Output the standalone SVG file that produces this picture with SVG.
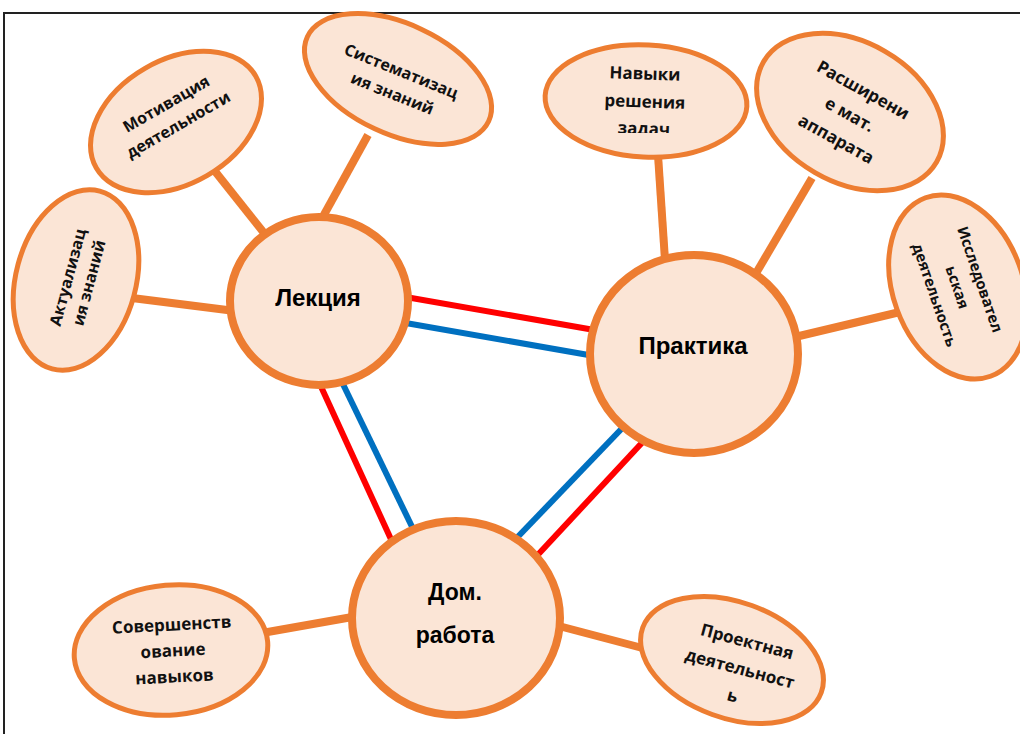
<svg xmlns="http://www.w3.org/2000/svg" width="1020" height="734" viewBox="0 0 1020 734">
<style>
.sat{fill:#FBE5D6;stroke:#ED7D31;stroke-width:5}
.main{fill:#FBE5D6;stroke:#ED7D31;stroke-width:8}
.st{font-family:"Open Sans","Liberation Sans",sans-serif;font-weight:700;font-size:16px;fill:#111;text-anchor:middle;dominant-baseline:central}
.mt{font-family:"Liberation Sans",Arial,sans-serif;font-weight:700;font-size:24px;fill:#000;text-anchor:middle;dominant-baseline:central}
.oc{stroke:#ED7D31;stroke-width:8;fill:none}
.r{stroke:#FF0000;stroke-width:6;fill:none}
.b{stroke:#0070C0;stroke-width:6;fill:none}
</style>
<defs>
<clipPath id="clipNav"><rect x="540" y="40" width="220" height="93"/></clipPath>
</defs>
<rect x="0" y="0" width="1020" height="734" fill="#fff"/>
<rect x="4" y="13" width="1030" height="740" fill="none" stroke="#222" stroke-width="2"/>
<g id="connectors">
<line class="oc" x1="132" y1="298" x2="235" y2="311"/>
<line class="oc" x1="210" y1="165" x2="268" y2="238"/>
<line class="oc" x1="368" y1="135" x2="320" y2="222"/>
<line class="oc" x1="658" y1="155" x2="665" y2="260"/>
<line class="oc" x1="812" y1="178" x2="755" y2="275"/>
<line class="oc" x1="795" y1="337" x2="900" y2="312"/>
<line class="oc" x1="262" y1="633" x2="358" y2="616"/>
<line class="oc" x1="555" y1="625" x2="650" y2="650"/>
<line class="r" x1="400" y1="296" x2="600" y2="331"/>
<line class="b" x1="400" y1="322" x2="600" y2="357"/>
<line class="r" x1="318" y1="380" x2="395" y2="548"/>
<line class="b" x1="340" y1="378" x2="416" y2="535"/>
<line class="b" x1="630" y1="420" x2="510" y2="545"/>
<line class="r" x1="652" y1="432" x2="533" y2="560"/>
</g>
<g id="n-aktual">
<ellipse class="sat" cx="0" cy="0" rx="60" ry="92" transform="translate(76 280) rotate(15)"/>
<g transform="translate(78 280) rotate(-75)">
<text class="st" x="0" y="-11">Актуализац</text>
<text class="st" x="0" y="11">ия знаний</text>
</g>
</g>
<g id="n-motiv">
<ellipse class="sat" cx="0" cy="0" rx="92" ry="62" transform="translate(176 122) rotate(-30)"/>
<g transform="translate(172 114) rotate(-30)">
<text class="st" x="0" y="-12">Мотивация</text>
<text class="st" x="0" y="12">деятельности</text>
</g>
</g>
<g id="n-sistem">
<ellipse class="sat" cx="0" cy="0" rx="100" ry="55" transform="translate(398 79) rotate(25)"/>
<g transform="translate(397 82) rotate(22)">
<text class="st" x="0" y="-12">Систематизац</text>
<text class="st" x="0" y="12">ия знаний</text>
</g>
</g>
<g id="n-navyki">
<ellipse class="sat" cx="0" cy="0" rx="101" ry="56" transform="translate(646 101) rotate(3)"/>
<g clip-path="url(#clipNav)">
<text class="st" style="font-size:17px" x="644" y="73" transform="rotate(2 644 100)">Навыки</text>
<text class="st" style="font-size:17px" x="645" y="101" transform="rotate(2 644 100)">решения</text>
<text class="st" style="font-size:17px" x="645" y="128" transform="rotate(2 644 100)">задач</text>
</g>
</g>
<g id="n-rasshir">
<ellipse class="sat" cx="0" cy="0" rx="100" ry="70" transform="translate(850 112) rotate(30)"/>
<g transform="translate(850 114) rotate(29)">
<text class="st" style="font-size:17px" x="0" y="-28">Расширени</text>
<text class="st" style="font-size:17px" x="0" y="0">е мат.</text>
<text class="st" style="font-size:17px" x="0" y="28">аппарата</text>
</g>
</g>
<g id="n-issled">
<ellipse class="sat" cx="0" cy="0" rx="65" ry="95" transform="translate(958 287) rotate(-20)"/>
<g transform="translate(958 287) rotate(71)">
<text class="st" style="font-size:15px" x="0" y="-24">Исследовател</text>
<text class="st" style="font-size:15px" x="0" y="0">ьская</text>
<text class="st" style="font-size:15px" x="0" y="24">деятельность</text>
</g>
</g>
<g id="n-soversh">
<ellipse class="sat" cx="0" cy="0" rx="97" ry="65" transform="translate(171 650) rotate(-5)"/>
<g transform="translate(173 650) rotate(-3)">
<text class="st" style="font-size:17px" x="0" y="-26">Совершенств</text>
<text class="st" style="font-size:17px" x="0" y="0">ование</text>
<text class="st" style="font-size:17px" x="0" y="26">навыков</text>
</g>
</g>
<g id="n-proekt">
<ellipse class="sat" cx="0" cy="0" rx="95" ry="58" transform="translate(732 660) rotate(20)"/>
<g transform="translate(740 668) rotate(15)">
<text class="st" style="font-size:17px" x="0" y="-28">Проектная</text>
<text class="st" style="font-size:17px" x="0" y="0">деятельност</text>
<text class="st" style="font-size:17px" x="0" y="28">ь</text>
</g>
</g>
<g id="n-lekciya">
<ellipse class="main" cx="319" cy="301" rx="89" ry="84"/>
<text class="mt" x="318" y="297">Лекция</text>
</g>
<g id="n-praktika">
<ellipse class="main" cx="694" cy="354" rx="104" ry="99"/>
<text class="mt" x="693" y="345">Практика</text>
</g>
<g id="n-dom">
<ellipse class="main" cx="456" cy="618" rx="104" ry="97"/>
<text class="mt" style="font-size:23px" x="455" y="592">Дом.</text>
<text class="mt" style="font-size:23px" x="455" y="635">работа</text>
</g>
</svg>
